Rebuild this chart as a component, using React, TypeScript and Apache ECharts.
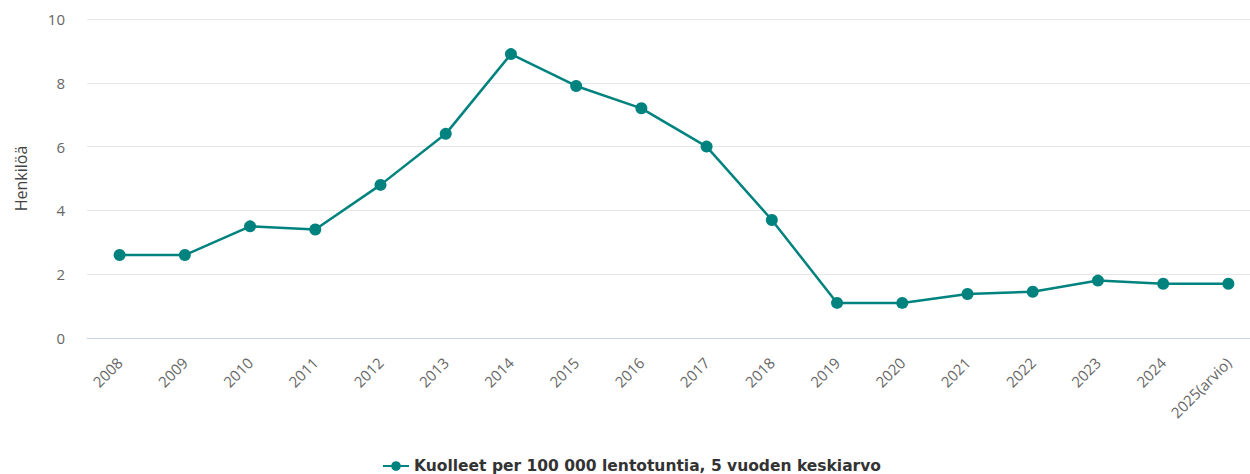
import React, { useEffect, useRef } from "react";
import * as echarts from "echarts";

const categories = ["2008","2009","2010","2011","2012","2013","2014","2015","2016","2017","2018","2019","2020","2021","2022","2023","2024","2025(arvio)"];
const values = [2.6, 2.6, 3.5, 3.4, 4.8, 6.4, 8.9, 7.9, 7.2, 6.0, 3.7, 1.1, 1.1, 1.38, 1.45, 1.8, 1.7, 1.7];
const seriesName = "Kuolleet per 100 000 lentotuntia, 5 vuoden keskiarvo";
const yAxisName = "Henkilöä";

export default function App() {
  const ref = useRef<HTMLDivElement>(null);
  useEffect(() => {
    document.body.style.margin = "0";
    const chart = echarts.init(ref.current!, null, { renderer: "svg" });
    const font = "'Open Sans', sans-serif";
    chart.setOption({
      animation: false,
      textStyle: { fontFamily: font },
      grid: { left: 87, top: 19, width: 1174, height: 319, containLabel: false },
      legend: {
        left: 382,
        top: 458,
        padding: 0,
        itemWidth: 26,
        itemHeight: 12,
        itemGap: 6,
        textStyle: { fontFamily: "'DejaVu Sans', sans-serif", fontSize: 15.5, fontWeight: "bold", color: "#333333" },
        data: [seriesName],
      },
      xAxis: {
        type: "category",
        data: categories,
        boundaryGap: true,
        axisLine: { lineStyle: { color: "#ccd6eb", width: 1 } },
        axisTick: { show: false },
        axisLabel: { rotate: 45, margin: 22, color: "#666666", fontSize: 15, fontFamily: font, interval: 0 },
      },
      yAxis: {
        type: "value",
        min: 0,
        max: 10,
        interval: 2,
        name: yAxisName,
        nameLocation: "middle",
        nameGap: 58,
        nameRotate: 90,
        nameTextStyle: { color: "#444444", fontSize: 16, fontFamily: font },
        axisLine: { show: false },
        axisTick: { show: false },
        axisLabel: { color: "#666666", fontSize: 15, fontFamily: font, margin: 22 },
        splitLine: { lineStyle: { color: "#e6e6e6", width: 1 } },
      },
      series: [
        {
          name: seriesName,
          type: "line",
          data: values,
          symbol: "circle",
          symbolSize: 12,
          lineStyle: { color: "#00827f", width: 2.5 },
          itemStyle: { color: "#00827f" },
        },
      ],
    });
    return () => chart.dispose();
  }, []);
  return (
    <div style={{ width: "100%", overflow: "hidden" }}>
      <div ref={ref} style={{ width: 1280, height: 474 }} />
    </div>
  );
}
